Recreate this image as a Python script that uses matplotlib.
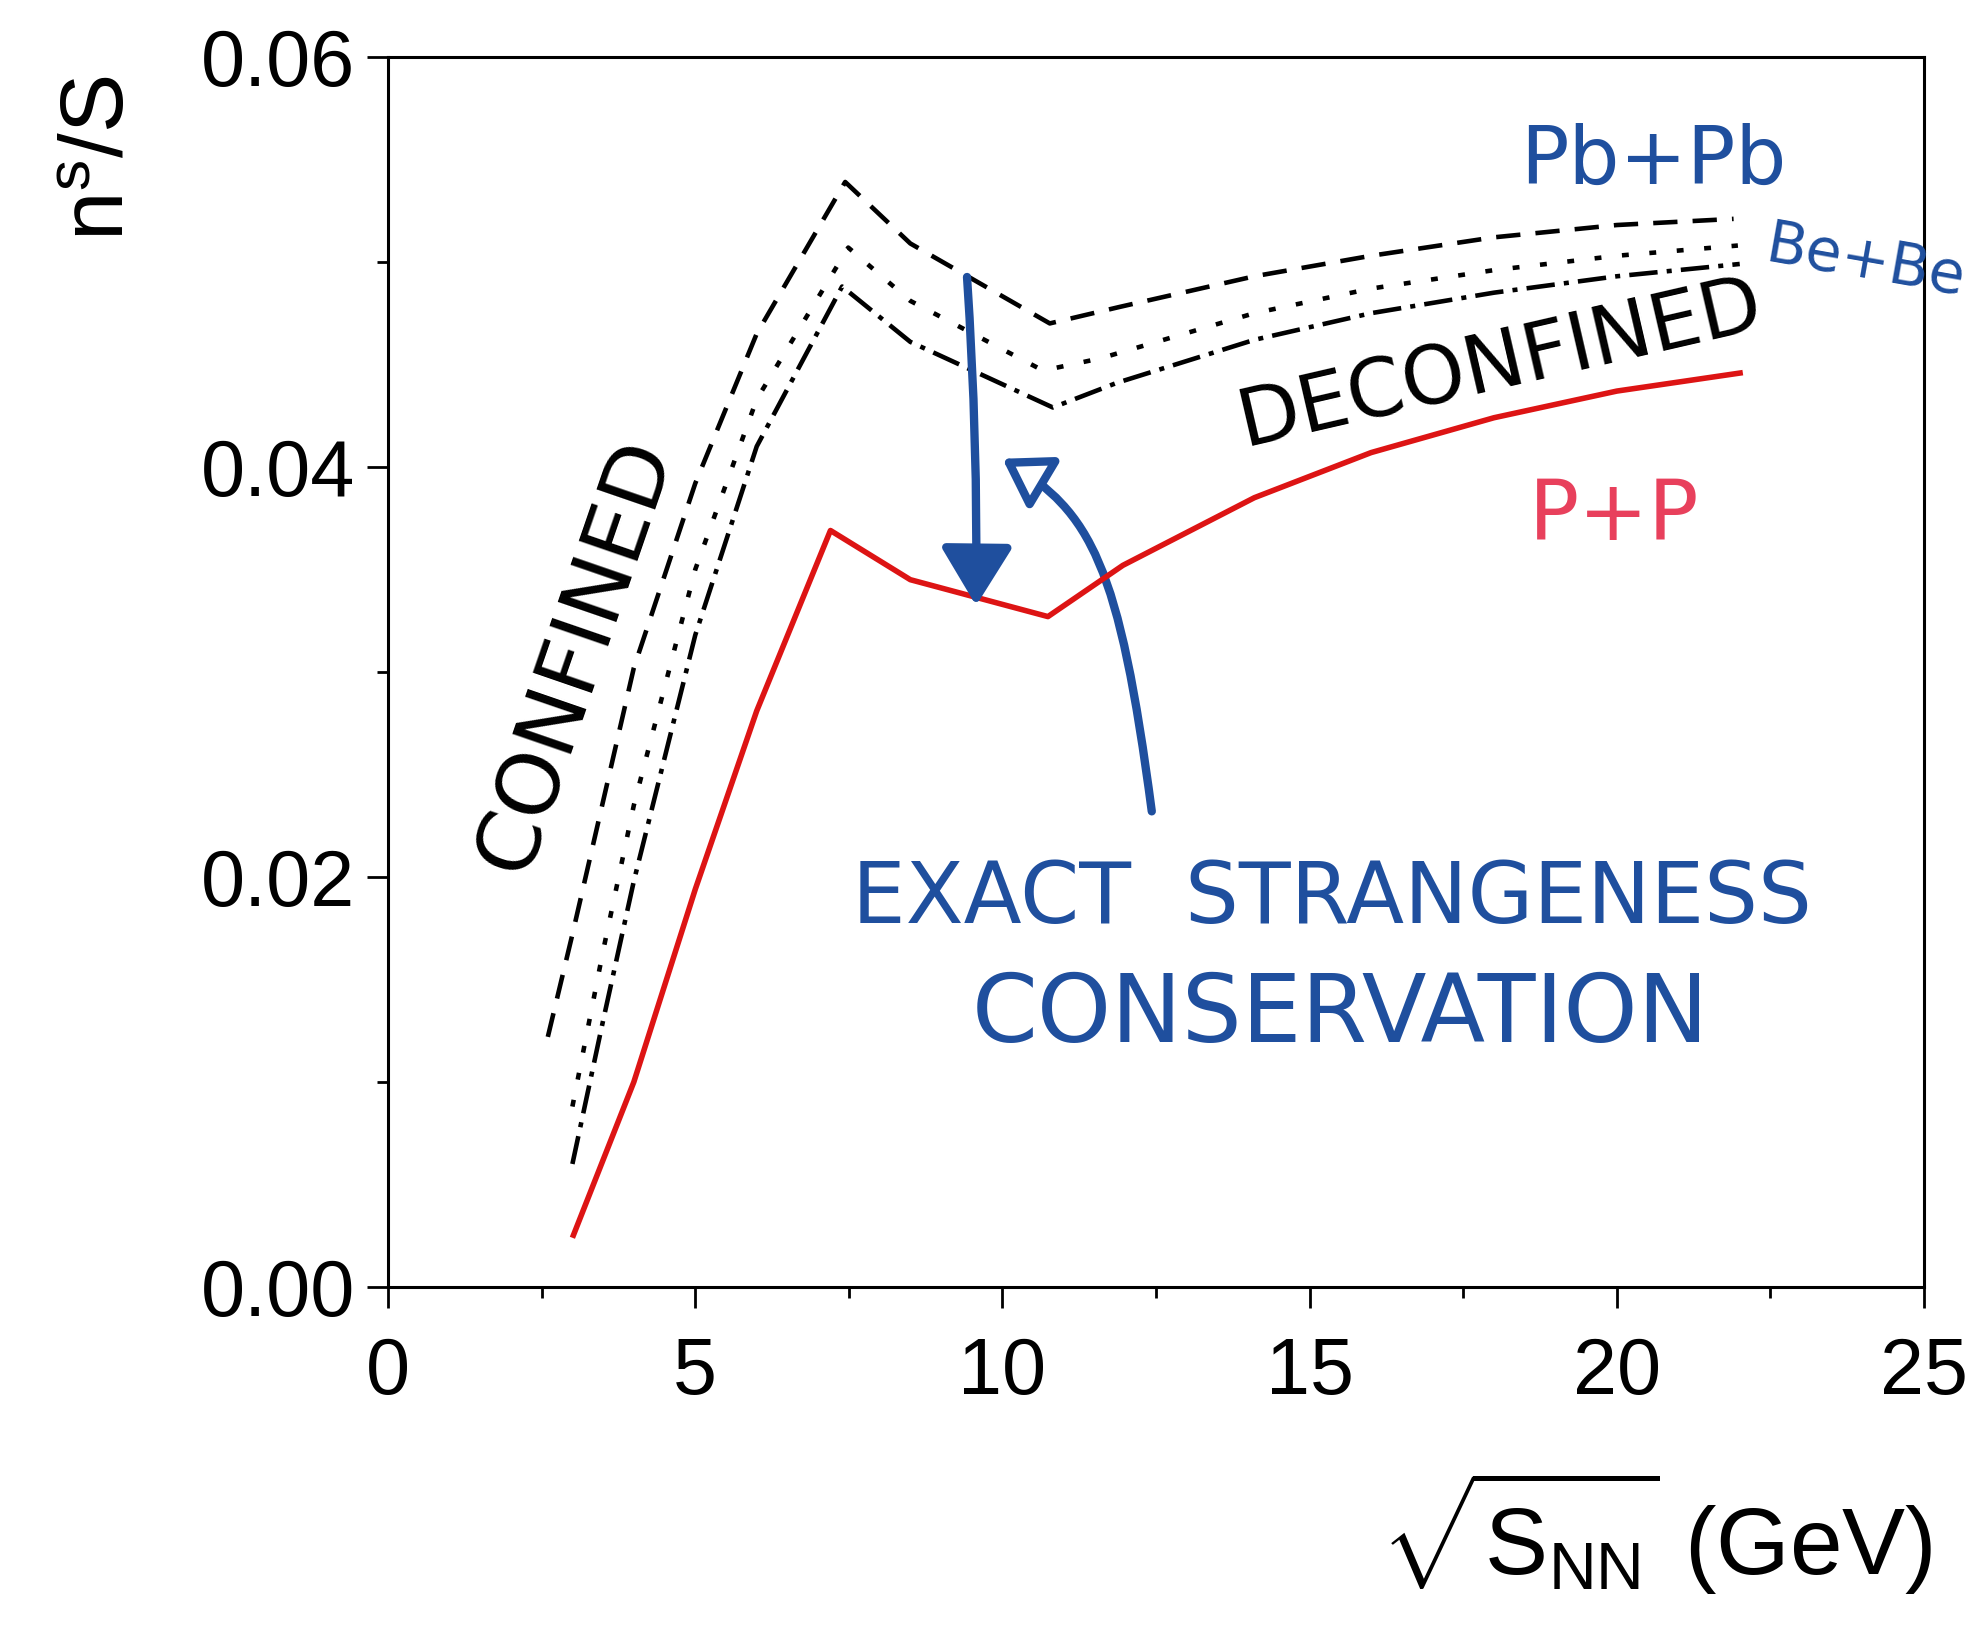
"""Strangeness to entropy ratio n_s/S against collision energy, with notes on top"""

import matplotlib.pyplot as plt
from matplotlib.patches import FancyArrowPatch
from matplotlib.path import Path
from matplotlib.ticker import MultipleLocator, FormatStrFormatter

# model curves: sqrt(s_NN) in GeV and n_s/S
PBPB_X = [2.6, 3.0, 3.5, 4.0, 5.0, 6.0, 7.44, 8.5, 10.77, 11.9, 14.1, 16.0, 18.0, 20.0, 21.9]
PBPB_Y = [0.0122, 0.0172, 0.0237, 0.0302, 0.0392, 0.0465, 0.0539, 0.0509, 0.0470,
          0.0478, 0.0493, 0.0503, 0.0512, 0.0518, 0.0521]

DOT_X = [3.0, 3.5, 4.0, 5.0, 6.0, 7.49, 8.5, 10.66, 11.6, 14.1, 16.0, 18.0, 20.0, 21.97]
DOT_Y = [0.0088, 0.0164, 0.0235, 0.0350, 0.0433, 0.0507, 0.0481, 0.0447, 0.0453,
         0.0475, 0.0487, 0.0496, 0.0503, 0.0508]

DASHDOT_X = [3.0, 3.5, 4.0, 5.0, 6.0, 7.39, 8.5, 10.82, 11.86, 14.1, 16.0, 18.0, 20.0, 22.0]
DASHDOT_Y = [0.0060, 0.0130, 0.0198, 0.0318, 0.0410, 0.0488, 0.0461, 0.0429, 0.0441,
             0.0462, 0.0475, 0.0485, 0.0493, 0.0499]

PP_X = [3.0, 4.0, 5.0, 6.0, 7.2, 8.5, 10.74, 11.96, 14.1, 16.0, 18.0, 20.0, 22.05]
PP_Y = [0.0024, 0.0100, 0.0194, 0.0281, 0.0369, 0.0345, 0.0327, 0.0352, 0.0385,
        0.0407, 0.0424, 0.0437, 0.0446]

X_TICKS = [0, 5, 10, 15, 20, 25]
Y_TICKS = [0.00, 0.02, 0.04, 0.06]

BLUE = '#1f4f9e'
RED = '#dd1414'
PINK = '#e8405c'

plt.rcParams['font.family'] = ['Liberation Sans', 'DejaVu Sans']
plt.rcParams['mathtext.fontset'] = 'custom'
plt.rcParams['mathtext.rm'] = 'Liberation Sans'
plt.rcParams['mathtext.it'] = 'Liberation Sans:italic'
plt.rcParams['mathtext.bf'] = 'Liberation Sans:bold'


def draw_curves(ax):
    """model lines, dashed/dotted/dash-dot for heavy ions and solid red for p+p"""
    ax.plot(PBPB_X, PBPB_Y, color='black', lw=3.3, ls=(0, (5.3, 3.3)))
    ax.plot(DOT_X, DOT_Y, color='black', lw=3.3, ls=(0, (1.5, 4.5)))
    ax.plot(DASHDOT_X, DASHDOT_Y, color='black', lw=3.3, ls=(0, (6.2, 2.0, 1.1, 2.0)))
    ax.plot(PP_X, PP_Y, color=RED, lw=4.0, solid_capstyle='butt')


def draw_notes(ax):
    """the hand written labels and arrows"""
    note = dict(family='DejaVu Sans', ha='center', va='center')
    ax.text(3.05, 0.0308, 'CONFINED', fontsize=62, rotation=71, color='black', **note)
    ax.text(18.1, 0.0450, 'DECONFINED', fontsize=58, rotation=13, color='black', **note)
    ax.text(20.6, 0.0549, 'Pb+Pb', fontsize=58, color=BLUE, **note)
    ax.text(22.35, 0.0500, 'Be+Be', fontsize=42, rotation=-10, color=BLUE,
            family='DejaVu Sans', ha='left', va='center', clip_on=False)
    ax.text(19.95, 0.0376, 'P+P', fontsize=60, color=PINK, **note)
    ax.text(15.36, 0.0189, 'EXACT  STRANGENESS', fontsize=61, color=BLUE, **note)
    ax.text(15.5, 0.0132, 'CONSERVATION', fontsize=68, color=BLUE, **note)

    # straight arrow down onto the p+p dip
    ax.annotate('', xy=(9.57, 0.0331), xytext=(9.42, 0.0494),
                arrowprops=dict(arrowstyle='-|>,head_length=0.9,head_width=0.55',
                                color=BLUE, lw=6, mutation_scale=40,
                                connectionstyle='arc3,rad=-0.02'))
    # hooked arrow coming up from the text, drawn along a cubic bezier
    hook = Path([(12.43, 0.0232), (11.9, 0.0352), (11.45, 0.0378), (10.0, 0.0404)],
                [Path.MOVETO, Path.CURVE4, Path.CURVE4, Path.CURVE4])
    ax.add_patch(FancyArrowPatch(path=hook,
                                 arrowstyle='-|>,head_length=0.7,head_width=0.45',
                                 mutation_scale=40, lw=6, ec=BLUE, fc='white'))


def main():
    fig = plt.figure(figsize=(19.74, 16.26), dpi=100)
    ax = fig.add_axes([0.1966, 0.2085, 0.7781, 0.7565])

    draw_curves(ax)
    draw_notes(ax)

    # axes, ticks and labels
    ax.set_xlim(0, 25)
    ax.set_ylim(0, 0.06)
    ax.set_xticks(X_TICKS)
    ax.set_yticks(Y_TICKS)
    ax.xaxis.set_minor_locator(MultipleLocator(2.5))
    ax.yaxis.set_minor_locator(MultipleLocator(0.01))
    ax.yaxis.set_major_formatter(FormatStrFormatter('%.2f'))
    ax.tick_params(which='major', direction='out', length=15, width=2.0, labelsize=57)
    ax.tick_params(which='minor', direction='out', length=8, width=2.0)
    ax.tick_params(axis='x', which='major', pad=20)
    ax.tick_params(axis='y', which='major', pad=9)
    for spine in ax.spines.values():
        spine.set_linewidth(2.2)

    fig.text(0.051, 0.903, 'n$^{\\mathrm{s}}$/S', rotation=90, fontsize=64,
             ha='center', va='center')
    fig.text(0.979, 0.057, r'$\sqrt{\mathrm{S}_{\mathrm{NN}}}$ (GeV)', fontsize=68,
             ha='right', va='center')

    fig.savefig('out.png', dpi=100)


main()
